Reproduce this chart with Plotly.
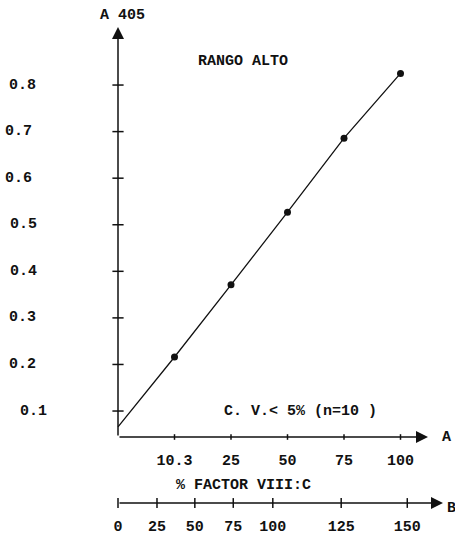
import plotly.graph_objects as go

# ---------------- data ----------------
A_LABELS = ["10.3", "25", "50", "75", "100"]          # % factor VIII:C, scale A
A_POS = [1, 2, 3, 4, 5]                               # equally spaced categories on scale A
ABSORBANCE = [0.216, 0.371, 0.527, 0.686, 0.825]     # A 405
LINE_START = 0.066                                    # where the drawn line meets the y axis
Y_TICKS = [0.1, 0.2, 0.3, 0.4, 0.5, 0.6, 0.7, 0.8]
Y_LABELS = ["0.1", "0.2", "0.3", "0.4", "0.5", "0.6", "0.7", "0.8"]
B_LABELS = ["0", "25", "50", "75", "100", "125", "150"]  # scale B tick labels
B_POS = [0.0, 0.69, 1.36, 2.04, 2.74, 3.95, 5.12]        # where the B ticks sit along scale A

# ---------------- layout helpers (pixel geometry of the drawing) ----------------
W, H = 455, 537
X0_PX, X_UNIT_PX = 118, 56.5
Y_ZERO_PX, Y_UNIT_PX = 457.6, 465.7


def xv(px):
    return (px - X0_PX) / X_UNIT_PX


def yv(py):
    return (Y_ZERO_PX - py) / Y_UNIT_PX


A_BASE = yv(437)
B_BASE = yv(503)
Y_LABEL_RIGHT_PX = [49, 38, 38, 39, 39, 34, 34, 38]
FONT = "Liberation Mono"
INK = "#111111"

fig = go.Figure()

# calibration line
fig.add_trace(go.Scatter(x=[0] + A_POS, y=[LINE_START] + ABSORBANCE, mode="lines",
                         line=dict(color=INK, width=1.3), hoverinfo="skip"))
# measured points
fig.add_trace(go.Scatter(x=A_POS, y=ABSORBANCE, mode="markers",
                         marker=dict(color=INK, size=7), cliponaxis=False))
# y-axis crossing ticks
fig.add_trace(go.Scatter(x=[0] * len(Y_TICKS), y=Y_TICKS, mode="markers", cliponaxis=False,
                         marker=dict(symbol="line-ew", size=8, line=dict(color=INK, width=1.5)),
                         hoverinfo="skip"))
# A-axis ticks
fig.add_trace(go.Scatter(x=A_POS, y=[A_BASE] * len(A_POS), mode="markers", cliponaxis=False,
                         marker=dict(symbol="line-ns", size=4, line=dict(color=INK, width=1.5)),
                         hoverinfo="skip"))
# B-axis ticks
fig.add_trace(go.Scatter(x=B_POS, y=[B_BASE] * len(B_POS), mode="markers", cliponaxis=False,
                         xaxis="x2",
                         marker=dict(symbol="line-ns", size=7, line=dict(color=INK, width=1.5)),
                         hoverinfo="skip"))

xrange = [xv(0), xv(W)]
tickfont = dict(family=FONT, size=15, color=INK)

annotations = []
# axis lines with arrowheads
arrow_style = dict(text="", showarrow=True, arrowhead=2, arrowsize=1.6, arrowwidth=1.5,
                   arrowcolor=INK, axref="x", ayref="y", xref="x", yref="y", standoff=0)
annotations.append(dict(x=0, y=yv(27), ax=0, ay=A_BASE, **arrow_style))
annotations.append(dict(x=xv(428), y=A_BASE, ax=0, ay=A_BASE, **arrow_style))
annotations.append(dict(x=xv(443), y=B_BASE, ax=0, ay=B_BASE, **arrow_style))

# y tick labels
for val, lab, rpx in zip(Y_TICKS, Y_LABELS, Y_LABEL_RIGHT_PX):
    annotations.append(dict(text="<b>%s</b>" % lab, x=rpx / W, xref="paper", xanchor="right",
                            y=val, yref="y", yanchor="middle", showarrow=False,
                            font=tickfont))


def txt(s, cx, cy, size=15, xanchor="center"):
    return dict(text=s, x=cx / W, y=1 - cy / H, xref="paper", yref="paper",
                xanchor=xanchor, yanchor="middle", showarrow=False,
                font=dict(family=FONT, size=size, color=INK))


annotations += [
    txt("<b>A 405</b>", 123, 16),
    txt("<b>RANGO ALTO</b>", 243, 61),
    txt("<b>C. V.&lt; 5% (n=10 )</b>", 300, 411),
    txt("<b>% FACTOR VIII:C</b>", 243, 485),
    txt("<b>A</b>", 446, 437),
    txt("<b>B</b>", 451, 508),
]

fig.update_layout(
    width=W, height=H, autosize=False,
    margin=dict(l=0, r=0, t=0, b=0, pad=0, autoexpand=False),
    paper_bgcolor="white", plot_bgcolor="white",
    showlegend=False,
    xaxis=dict(range=xrange, anchor="free", position=1 - 437 / H, automargin=False,
               tickvals=A_POS, ticktext=["<b>%s</b>" % t for t in A_LABELS],
               tickfont=tickfont, ticks="", showline=False, showgrid=False,
               zeroline=False, ticklabelstandoff=12, fixedrange=True),
    xaxis2=dict(range=xrange, overlaying="x", anchor="free", position=1 - 503 / H,
                side="bottom", automargin=False,
                tickvals=B_POS, ticktext=["<b>%s</b>" % t for t in B_LABELS],
                tickfont=tickfont, ticks="", showline=False, showgrid=False,
                zeroline=False, ticklabelstandoff=12, fixedrange=True),
    yaxis=dict(range=[yv(H), yv(0)], visible=False, fixedrange=True, automargin=False),
    annotations=annotations,
)

fig.write_html("out.html", config={"displayModeBar": False},
               post_script="document.body.style.margin='0';document.body.style.overflow='hidden';")
